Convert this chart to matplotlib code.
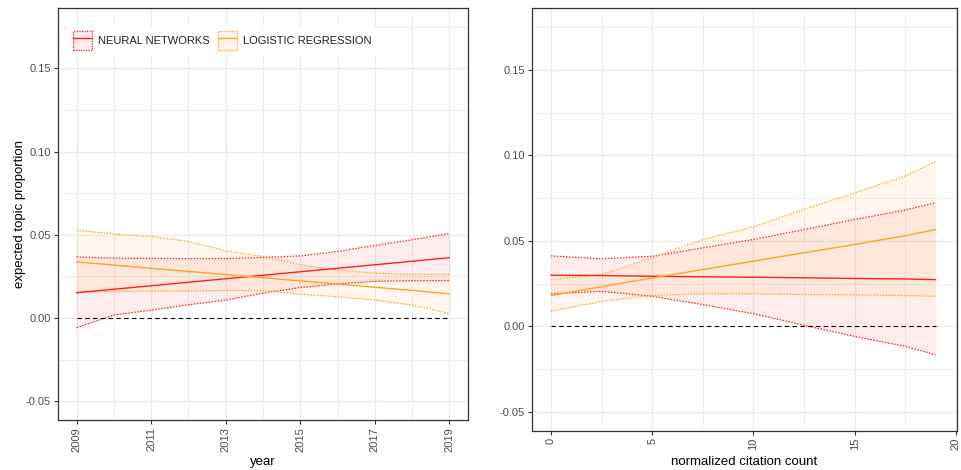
import matplotlib
matplotlib.use("Agg")
import matplotlib.pyplot as plt
from matplotlib.patches import Patch
from matplotlib.lines import Line2D
from matplotlib.legend_handler import HandlerTuple

plt.rcParams['font.family'] = ['Liberation Sans', 'DejaVu Sans']

# ---- data: left panel (year) ----
years = [2009, 2010, 2011, 2012, 2013, 2014, 2015, 2016, 2017, 2018, 2019]
nn_year_mean = [0.0152, 0.0173, 0.0194, 0.0215, 0.0236, 0.0257, 0.0278, 0.0299, 0.0320, 0.0341, 0.0363]
nn_year_upper = [0.0367, 0.0360, 0.0358, 0.0357, 0.0357, 0.0364, 0.0373, 0.0400, 0.0436, 0.0470, 0.0508]
nn_year_lower = [-0.0058, 0.0018, 0.0048, 0.0080, 0.0108, 0.0150, 0.0183, 0.0205, 0.0221, 0.0224, 0.0225]
lr_year_mean = [0.0337, 0.0318, 0.0299, 0.0280, 0.0261, 0.0242, 0.0223, 0.0204, 0.0185, 0.0166, 0.0146]
lr_year_upper = [0.0528, 0.0505, 0.0490, 0.0460, 0.0404, 0.0370, 0.0320, 0.0289, 0.0269, 0.0263, 0.0263]
lr_year_lower = [0.0157, 0.0160, 0.0162, 0.0163, 0.0165, 0.0165, 0.0143, 0.0128, 0.0108, 0.0078, 0.0028]

# ---- data: right panel (normalized citation count) ----
cites = [0, 2.5, 5, 7.5, 10, 12.5, 15, 17.5, 19]
nn_cite_mean = [0.0299, 0.0297, 0.0293, 0.0290, 0.0287, 0.0284, 0.0280, 0.0277, 0.0273]
nn_cite_upper = [0.0412, 0.0395, 0.0410, 0.0459, 0.0508, 0.0566, 0.0625, 0.0680, 0.0723]
nn_cite_lower = [0.0191, 0.0205, 0.0176, 0.0127, 0.0074, 0.0006, -0.0059, -0.0117, -0.0166]
lr_cite_mean = [0.0180, 0.0232, 0.0283, 0.0332, 0.0381, 0.0430, 0.0479, 0.0530, 0.0566]
lr_cite_upper = [0.0273, 0.0303, 0.0400, 0.0508, 0.0582, 0.0684, 0.0780, 0.0880, 0.0963]
lr_cite_lower = [0.0088, 0.0146, 0.0180, 0.0190, 0.0190, 0.0186, 0.0184, 0.0180, 0.0176]

labels = ["NEURAL NETWORKS", "LOGISTIC REGRESSION"]
year_ticks = [2009, 2011, 2013, 2015, 2017, 2019]
cite_ticks = [0, 5, 10, 15, 20]
y_ticks = [-0.05, 0.00, 0.05, 0.10, 0.15]

RED = "#FF2020"
ORANGE = "#FFA520"
GRID = "#EBEBEB"
TICKC = "#4D4D4D"
FILL_ALPHA = 0.08
dot = (0, (1.2, 1.2))

fig = plt.figure(figsize=(9.61, 4.70), dpi=100)
ax1 = fig.add_axes([58/961, 1-420/470, (468-58)/961, (420-8)/470])
ax2 = fig.add_axes([532/961, 1-431/470, (957-532)/961, (431-8)/470])


def draw(ax, x, series, ylim, xlim, xticks, minor_x):
    for mean, up, lo, col in series:
        ax.fill_between(x, lo, up, color=col, alpha=FILL_ALPHA, linewidth=0, zorder=2)
        ax.plot(x, up, color=col, lw=0.9, ls=dot, zorder=3)
        ax.plot(x, lo, color=col, lw=0.9, ls=dot, zorder=3)
        ax.plot(x, mean, color=col, lw=1.0, zorder=4)
    ax.plot([x[0], x[-1]], [0, 0], color="black", lw=0.8, ls=(0, (4, 3)), zorder=3)
    ax.set_xlim(*xlim)
    ax.set_ylim(*ylim)
    ax.set_xticks(xticks)
    ax.set_xticks(minor_x, minor=True)
    ax.set_yticks(y_ticks)
    ax.set_yticks([-0.025, 0.025, 0.075, 0.125, 0.175], minor=True)
    ax.set_yticklabels(["-0.05", "0.00", "0.05", "0.10", "0.15"])
    ax.grid(True, which="major", color=GRID, lw=0.9, zorder=0)
    ax.grid(True, which="minor", color=GRID, lw=0.6, zorder=0)
    ax.set_axisbelow(True)
    ax.tick_params(axis="both", which="major", length=3, width=0.8, colors="#333333",
                   labelcolor=TICKC, labelsize=8, pad=2)
    ax.tick_params(axis="both", which="minor", length=0)
    ax.tick_params(axis="x", labelrotation=90)
    for lab in ax.get_xticklabels():
        lab.set_va("top")
    for s in ax.spines.values():
        s.set_color("#333333")
        s.set_linewidth(0.9)


ylim = (-0.06125, 0.18625)
draw(ax1, years,
     [(nn_year_mean, nn_year_upper, nn_year_lower, RED),
      (lr_year_mean, lr_year_upper, lr_year_lower, ORANGE)],
     ylim, (2008.5, 2019.5), year_ticks, [2010, 2012, 2014, 2016, 2018])
draw(ax2, cites,
     [(nn_cite_mean, nn_cite_upper, nn_cite_lower, RED),
      (lr_cite_mean, lr_cite_upper, lr_cite_lower, ORANGE)],
     ylim, (-0.94, 20.06), cite_ticks, [2.5, 7.5, 12.5, 17.5])

ax1.set_xlabel("year", fontsize=9.5, labelpad=3)
ax2.set_xlabel("normalized citation count", fontsize=9.5, labelpad=4)
ax1.set_ylabel("expected topic proportion", fontsize=9.5, labelpad=0)

# legend
handles = []
for col in (RED, ORANGE):
    p = Patch(facecolor=matplotlib.colors.to_rgba(col, FILL_ALPHA),
              edgecolor=col, linestyle=(0, (1, 1)), linewidth=0.9)
    l = Line2D([], [], color=col, lw=1.0)
    handles.append((p, l))
leg = ax1.legend(handles, labels, ncol=2, loc="upper left",
                 bbox_to_anchor=(0.026, 0.954), frameon=True, fancybox=False,
                 edgecolor="white", facecolor="white", framealpha=1,
                 fontsize=8, handlelength=1.7, handleheight=2.25,
                 handletextpad=0.55, columnspacing=0.75, borderpad=0.4,
                 borderaxespad=0.0,
                 handler_map={tuple: HandlerTuple(ndivide=1, pad=0)})
for t in leg.get_texts():
    t.set_color("#222222")

fig.savefig("out.png", dpi=100)
